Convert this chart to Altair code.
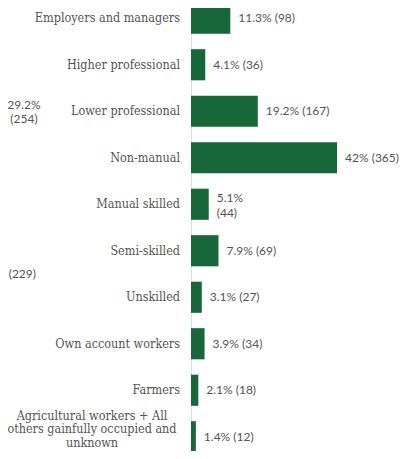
import altair as alt
import pandas as pd

categories = [
    "Employers and managers",
    "Higher professional",
    "Lower professional",
    "Non-manual",
    "Manual skilled",
    "Semi-skilled",
    "Unskilled",
    "Own account workers",
    "Farmers",
    "Agricultural workers + All others gainfully occupied and unknown",
]
percents = [11.3, 4.1, 19.2, 42, 5.1, 7.9, 3.1, 3.9, 2.1, 1.4]
counts = [98, 36, 167, 365, 44, 69, 27, 34, 18, 12]
value_labels = [
    "11.3% (98)", "4.1% (36)", "19.2% (167)", "42% (365)", "5.1%\n(44)",
    "7.9% (69)", "3.1% (27)", "3.9% (34)", "2.1% (18)", "1.4% (12)",
]
category_labels = categories[:-1] + [
    "Agricultural workers + All\nothers gainfully occupied and\nunknown"
]
multi_line = [False] * 9 + [True]
two_line_value = [False, False, False, False, True, False, False, False, False, False]

# fragments of the neighbouring (cropped) panel
side_categories = ["Lower professional", "Semi-skilled"]
side_labels = ["29.2%\n(254)", "26.3% (229)"]

df = pd.DataFrame({
    "category": categories,
    "pct": percents,
    "count": counts,
    "value_label": value_labels,
    "cat_label": category_labels,
    "multi": multi_line,
    "two": two_line_value,
})
side = pd.DataFrame({"category": side_categories, "label": side_labels})

yscale = alt.Scale(domain=categories, range=[-13, 452], paddingInner=0.33, paddingOuter=0.165)
y = alt.Y("category:N", scale=yscale, sort=categories,
          axis=alt.Axis(labels=False, ticks=False, title=None, domainColor="#dddddd", domainWidth=1))
x = alt.X("pct:Q", scale=alt.Scale(domain=[0, 57.5]), axis=None)

base = alt.Chart(df)

bars = base.mark_bar(color="#17673a").encode(x=x, y=y)

val_style = dict(align="left", baseline="middle", dx=8, font="Lato", fontSize=12,
                 color="#555555", lineBreak="\n", lineHeight=15)
vals_one = base.transform_filter("!datum.two").mark_text(**val_style).encode(
    x=x, y=y, text="value_label:N")
vals_two = base.transform_filter("datum.two").mark_text(dy=-6, **val_style).encode(
    x=x, y=y, text="value_label:N")

cat_font = "DejaVu Serif Condensed"
cats_single = base.transform_filter("!datum.multi").mark_text(
    align="right", baseline="middle", dx=-11, font=cat_font, fontSize=12.5,
    color="#555555").encode(x=alt.value(0), y=y, text="cat_label:N")

cats_multi = base.transform_filter("datum.multi").mark_text(
    align="center", baseline="middle", dx=-99, dy=-21, font=cat_font, fontSize=12.5,
    color="#555555", lineBreak="\n", lineHeight=13.5).encode(x=alt.value(0), y=y, text="cat_label:N")

side_a = alt.Chart(side).transform_filter("datum.category == 'Lower professional'").mark_text(
    align="center", baseline="middle", dx=-167, dy=-6, font="Lato", fontSize=12,
    color="#555555", lineBreak="\n", lineHeight=14).encode(x=alt.value(0), y=y, text="label:N")
side_b = alt.Chart(side).transform_filter("datum.category == 'Semi-skilled'").mark_text(
    align="right", baseline="middle", dx=-155, dy=23, font="Lato", fontSize=12,
    color="#555555").encode(x=alt.value(0), y=y, text="label:N")

chart = alt.layer(bars, vals_one, vals_two, cats_single, cats_multi, side_a, side_b).properties(
    width=200, height=443,
    padding={"left": 183, "right": 8, "top": 0, "bottom": 0},
    autosize=alt.AutoSizeParams(type="none"),
    background="white",
).configure_view(stroke=None)

chart.save("out.html", embed_options={"renderer": "svg", "actions": False})
